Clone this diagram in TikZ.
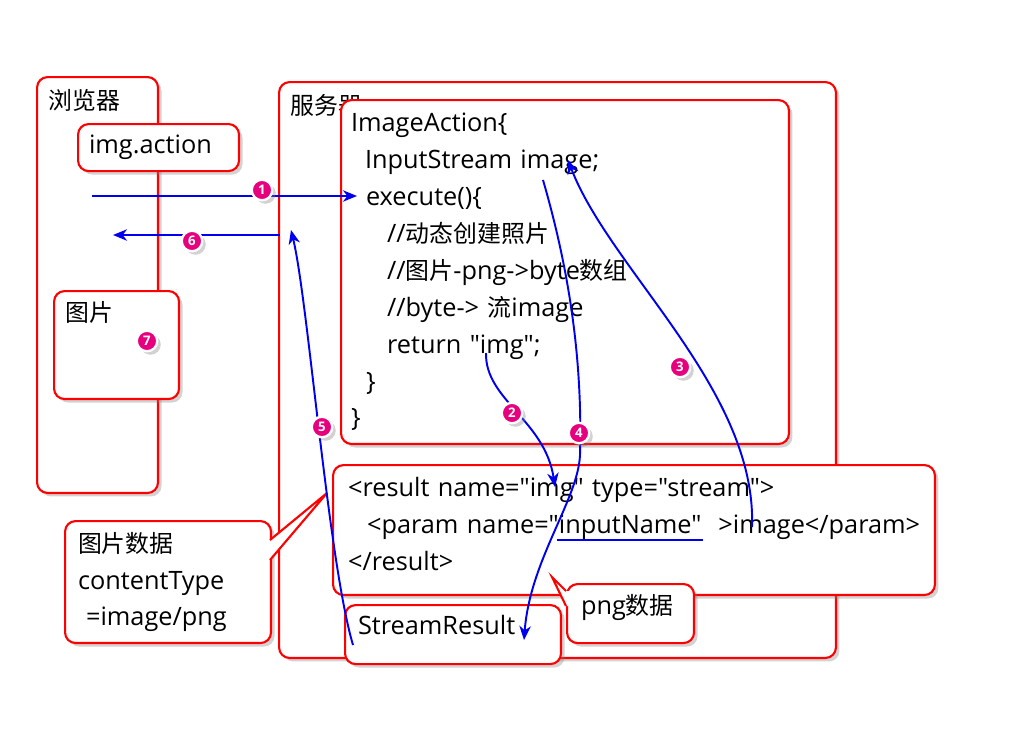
\documentclass[tikz,border=0pt]{standalone}
\usepackage{fontspec}
\setmainfont{Open Sans}[Ligatures=TeXOff]
\newfontfamily\cjk{Noto Sans CJK SC}[Scale=0.944]
\usetikzlibrary{arrows.meta,shadows}
\definecolor{FlowRed}{HTML}{FF0000}
\definecolor{FlowBlue}{HTML}{0000F0}
\definecolor{FlowPink}{HTML}{E6007E}

\begin{document}
\begin{tikzpicture}[x=0.02cm, y=-0.02cm, every node/.style={font=\fontsize{14.4}{21}\selectfont}, boxshadow/.style={drop shadow={shadow xshift=2pt, shadow yshift=-2pt, opacity=0.35}}, box/.style={rounded corners=6pt, draw=FlowRed, line width=1.2pt, fill=white, boxshadow, anchor=north west, align=left, inner ysep=0pt}, pointer/.style={draw=FlowRed, line width=1.2pt}, lbl/.style={anchor=west, inner sep=0pt}, arrow/.style={-{Stealth[length=8pt, width=6.5pt, inset=2.5pt]}, line width=1.1pt, color=FlowBlue}, num/.style={circle, fill=FlowPink, draw=white, line width=1.3pt, minimum size=0.41cm, inner sep=0pt, text=white, font=\bfseries\fontsize{7.5}{7.5}\selectfont, boxshadow}]
\useasboundingbox (0,0) rectangle (1024,728);
% browser side
\node[box, minimum width=2.42cm, minimum height=8.32cm] (browser) at (36,76) {};
\node[lbl] (browserlbl) at (48,100) {\cjk 浏览器};
\node[box, text width=2.78cm, inner xsep=0.22cm, minimum height=0.94cm] (imgaction) at (77,123) {img.action};
\node[box, minimum width=2.5cm, minimum height=2.16cm] (picture) at (53,290) {};
\node[lbl] (picturelbl) at (65,312) {\cjk 图片};
% server side
\node[box, minimum width=11.14cm, minimum height=11.52cm] (server) at (278,81) {};
\node[lbl] (serverlbl) at (290,105) {\cjk 服务器};
\node[box, text width=8.56cm, inner xsep=0.2cm, minimum height=6.88cm] (action) at (340,99) {ImageAction\{\\
\hspace*{0.28cm}InputStream image;\\
\hspace*{0.3cm}execute()\{\\
\hspace*{0.72cm}//{\cjk 动态创建照片}\\
\hspace*{0.72cm}//{\cjk 图片}-png->byte{\cjk 数组}\\
\hspace*{0.72cm}//byte-> {\cjk 流}image\\
\hspace*{0.72cm}return "img";\\
\hspace*{0.3cm}\}\\
\}};
\node[box, text width=11.44cm, inner xsep=0.3cm, minimum height=2.6cm, text depth=49pt] (result) at (332,464) {\mbox{<result name="img" type="stream">}\\
\mbox{\hspace*{0.38cm}<param name="inputName"\ \ >image</param>}\\
\mbox{</result>}};
\node[box, text width=3.8cm, inner xsep=0.26cm, minimum height=1.18cm, text depth=10.5pt] (streamres) at (344,604) {StreamResult};
% callouts
\node[box, text width=1.98cm, inner xsep=0.28cm, minimum height=1.18cm, text depth=10.5pt] (pngdata) at (566,583) {png{\cjk 数据}};
\coordinate (pngtip) at (552,577);
\fill[white] (576,591) -- (566,591) -- (pngtip) -- (566,606) -- (576,606) -- cycle;
\draw[pointer] (566,591) -- (pngtip) -- (566,606);
\node[box, text width=3.6cm, inner xsep=0.26cm, minimum height=2.44cm] (picdata) at (64,520) {{\cjk 图片数据}\\
contentType\\
\hspace*{0.16cm}=image/png};
\coordinate (pictip) at (327,493);
\fill[white] (258,540) -- (270,540) -- (pictip) -- (270,560) -- (258,560) -- cycle;
\draw[pointer] (270,540) -- (pictip) -- (270,560);
% connector ends
\coordinate (a1s) at (92,196); \coordinate (a1e) at (357,196);
\coordinate (a6s) at (280,235); \coordinate (a6e) at (113,235);
\coordinate (a2s) at (486,353); \coordinate (a2e) at (555,487);
\coordinate (a3s) at (752,527); \coordinate (a3e) at (568,160);
\coordinate (a4s) at (543,180); \coordinate (a4m) at (580,455); \coordinate (a4e) at (524,640);
\coordinate (a5s) at (353,645); \coordinate (a5e) at (291,230);
\coordinate (ulineA) at (557,540); \coordinate (ulineB) at (703,540);
\draw[line width=1.1pt, color=FlowBlue] (ulineA) -- (ulineB);
\draw[arrow] (a1s) -- (a1e);
\draw[arrow] (a6s) -- (a6e);
\draw[arrow] (a2s) .. controls (485,400) and (545,420) .. (a2e);
\draw[arrow] (a3s) .. controls (757,390) and (610,270) .. (a3e);
\draw[arrow] (a4s) .. controls (575,290) and (582,380) .. (a4m) .. controls (578,500) and (530,560) .. (a4e);
\draw[arrow] (a5s) .. controls (328,560) and (308,300) .. (a5e);
% step markers
\node[num] (n1) at (262,190) {1};
\node[num] (n2) at (512,413) {2};
\node[num] (n3) at (680,367) {3};
\node[num] (n4) at (579,433) {4};
\node[num] (n5) at (322,427) {5};
\node[num] (n6) at (192,241) {6};
\node[num] (n7) at (147,341) {7};
\end{tikzpicture}
\end{document}
